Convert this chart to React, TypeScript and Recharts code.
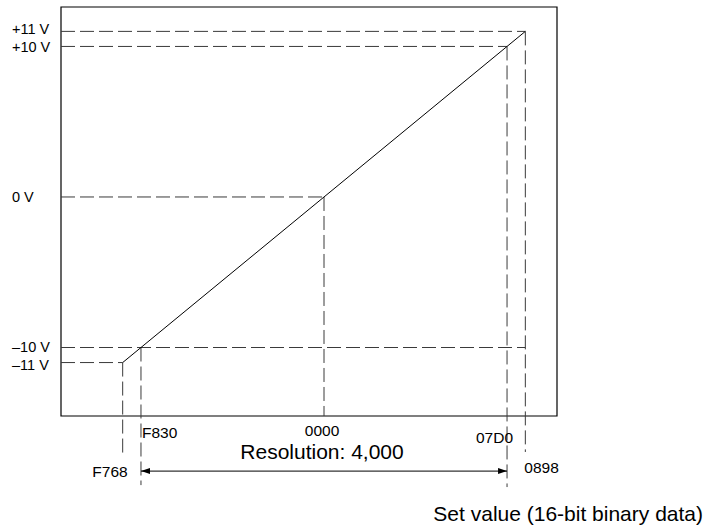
import React from 'react';
import { LineChart, Line, XAxis, YAxis, ReferenceLine, ReferenceArea } from 'recharts';

// set values (decimal of the hex codes) and their output voltages
const codeLabels = ['F768', 'F830', '0000', '07D0', '0898'];
const codeValues = [-2200, -2000, 0, 2000, 2200];
const voltValues = [-11, -10, 0, 10, 11];
const voltLabels = ['\u201311 V', '\u201310 V', '0 V', '+10 V', '+11 V'];

// how far each dashed guide runs (data units)
const hGuideEnds = [-2200, 2200, 0, 2000, 2200]; // horizontal guides end at this set value
const vGuideEnds = [-17.14, -19.14, -14.55, -19.27, -16.94]; // vertical guides drop to this voltage
const arrowLevel = -18.21;

const xDomain: [number, number] = [-2874, 2546];
const yDomain: [number, number] = [-14.55, 12.62];

const lineData = [
  { code: codeValues[0], volt: voltValues[0] },
  { code: codeValues[4], volt: voltValues[4] },
];

const FONT = '"Liberation Sans", Arial, Helvetica, sans-serif';
const DASH = '14 5';
const GUIDE = '#3a3a3a';

// label offsets (style only)
const codePlace = [
  { dx: 5, dy: 55, anchor: 'end' },
  { dx: 1, dy: 16, anchor: 'start' },
  { dx: -2, dy: 14, anchor: 'middle' },
  { dx: 6, dy: 21, anchor: 'end' },
  { dx: -1, dy: 51, anchor: 'start' },
];
const voltNudge = [2, -1, 0, 1, -2];

const CodeTick = (props: any) => {
  const { x, y, payload } = props;
  const i = codeValues.indexOf(payload.value);
  const p = codePlace[i];
  return (
    <text x={x + p.dx} y={y + p.dy} textAnchor={p.anchor} dominantBaseline="central"
      fontFamily={FONT} fontSize={15.5} fill="#000">
      {codeLabels[i]}
    </text>
  );
};

const VoltTick = (props: any) => {
  const { y, payload } = props;
  const i = voltValues.indexOf(payload.value);
  return (
    <text x={12} y={y + voltNudge[i]} textAnchor="start" dominantBaseline="central"
      fontFamily={FONT} fontSize={14.5} fill="#000">
      {voltLabels[i]}
    </text>
  );
};

const ResolutionArrow = (props: any) => {
  const { x1, y1, x2 } = props;
  const l = Math.min(x1, x2);
  const r = Math.max(x1, x2);
  const a = 9, h = 3;
  return (
    <g>
      <line x1={l} y1={y1} x2={r} y2={y1} stroke="#000" strokeWidth={1} />
      <polygon points={`${l},${y1} ${l + a},${y1 - h} ${l + a},${y1 + h}`} fill="#000" />
      <polygon points={`${r},${y1} ${r - a},${y1 - h} ${r - a},${y1 + h}`} fill="#000" />
      <text x={(l + r) / 2 - 2} y={y1 - 20} textAnchor="middle" dominantBaseline="central"
        fontFamily={FONT} fontSize={21} fill="#000">
        Resolution: 4,000
      </text>
    </g>
  );
};

const AxisTitle = (props: any) => {
  const vb = props.viewBox;
  return (
    <text x={vb.x + vb.width + 146} y={vb.y + 97} textAnchor="end" dominantBaseline="central"
      fontFamily={FONT} fontSize={21} fill="#000">
      Set value (16-bit binary data)
    </text>
  );
};

export default function App() {
  return (
    <div style={{ position: 'absolute', left: 0, top: 0, background: '#fff' }}>
      <LineChart width={715} height={531} data={lineData}
        margin={{ top: 7, right: 158, bottom: 85, left: 0 }}>
        <XAxis dataKey="code" type="number" domain={xDomain} allowDataOverflow
          ticks={codeValues} interval={0} height={30} axisLine={false} tickLine={false}
          tickSize={0} tickMargin={0} tick={<CodeTick />} label={AxisTitle} />
        <YAxis type="number" domain={yDomain} allowDataOverflow ticks={voltValues}
          interval={0} width={61} axisLine={false} tickLine={false} tickSize={0}
          tickMargin={0} tick={<VoltTick />} />

        <ReferenceArea x1={xDomain[0]} x2={xDomain[1]} y1={yDomain[0]} y2={yDomain[1]}
          fill="none" fillOpacity={0} stroke="#000" strokeWidth={1.2} ifOverflow="visible" />

        {voltValues.map((v, i) => (
          <ReferenceLine key={'h' + i} ifOverflow="visible" stroke={GUIDE} strokeDasharray={DASH}
            segment={[{ x: xDomain[0], y: v }, { x: hGuideEnds[i], y: v }]} />
        ))}
        {codeValues.map((c, i) => (
          <ReferenceLine key={'v' + i} ifOverflow="visible" stroke={GUIDE} strokeDasharray={DASH}
            segment={[{ x: c, y: voltValues[i] }, { x: c, y: vGuideEnds[i] }]} />
        ))}

        <ReferenceLine ifOverflow="visible" shape={ResolutionArrow}
          segment={[{ x: codeValues[1], y: arrowLevel }, { x: codeValues[3], y: arrowLevel }]} />

        <Line dataKey="volt" stroke="#000" strokeWidth={1} dot={false} activeDot={false}
          isAnimationActive={false} />
      </LineChart>
    </div>
  );
}
